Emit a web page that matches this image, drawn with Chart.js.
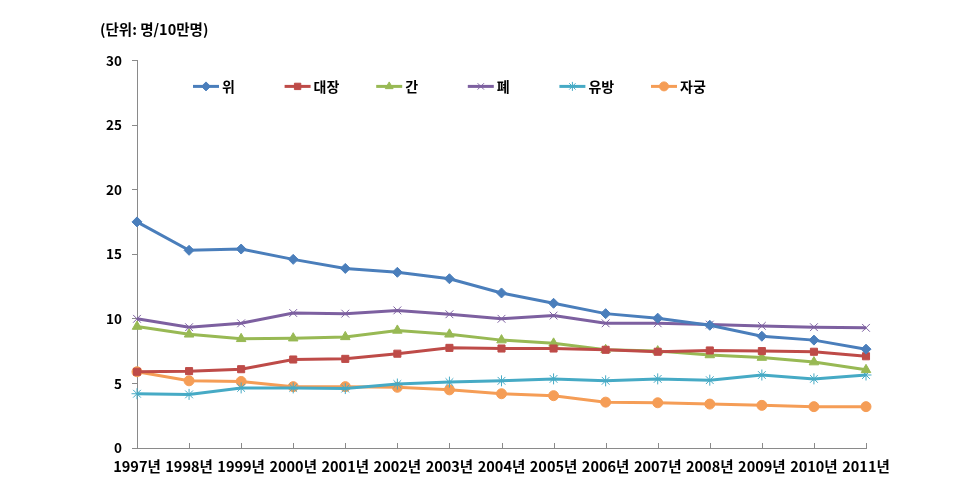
<!DOCTYPE html>
<html>
<head>
<meta charset="utf-8">
<script src="https://cdn.jsdelivr.net/npm/chart.js@4.4.1/dist/chart.umd.min.js"></script>
<style>
  html, body { margin: 0; padding: 0; background: #fff; }
  #wrap { width: 965px; height: 483px; }
</style>
</head>
<body>
<div id="wrap"><canvas id="lineChart" width="965" height="483"></canvas></div>
<script>
const years = ['1997년', '1998년', '1999년', '2000년', '2001년', '2002년', '2003년', '2004년',
  '2005년', '2006년', '2007년', '2008년', '2009년', '2010년', '2011년'];

const seriesNames = ['위', '대장', '간', '폐', '유방', '자궁'];

const stomach = [17.5, 15.3, 15.4, 14.6, 13.9, 13.6, 13.1, 12.0, 11.2, 10.4, 10.05, 9.5, 8.65, 8.35, 7.65];
const colorectal = [5.9, 5.95, 6.1, 6.85, 6.9, 7.3, 7.75, 7.7, 7.7, 7.6, 7.45, 7.55, 7.5, 7.45, 7.1];
const liver = [9.4, 8.8, 8.45, 8.5, 8.6, 9.1, 8.8, 8.35, 8.1, 7.6, 7.5, 7.2, 7.0, 6.65, 6.05];
const lung = [10.0, 9.35, 9.65, 10.45, 10.4, 10.65, 10.35, 10.0, 10.25, 9.65, 9.65, 9.55, 9.45, 9.35, 9.3];
const breast = [4.2, 4.15, 4.65, 4.65, 4.6, 4.95, 5.1, 5.2, 5.35, 5.2, 5.35, 5.25, 5.65, 5.35, 5.65];
const cervix = [5.9, 5.2, 5.15, 4.75, 4.75, 4.7, 4.5, 4.2, 4.05, 3.55, 3.5, 3.4, 3.3, 3.2, 3.2];

const yTicks = [0, 5, 10, 15, 20, 25, 30];

const colors = ['#4A7EBB', '#BE4B48', '#98B954', '#7D60A0', '#46AAC5', '#F59D56'];
const markers = ['rectRot', 'rect', 'triangle', 'crossRot', 'star', 'circle'];
const radii = [5, 5, 5.5, 5.5, 5.5, 5];

const FONT = '"Noto Sans CJK KR", "Noto Sans", sans-serif';

function makeDataset(i, values) {
  return {
    label: seriesNames[i],
    data: values,
    borderColor: colors[i],
    backgroundColor: colors[i],
    borderWidth: 3,
    tension: 0,
    pointStyle: markers[i],
    pointRadius: radii[i],
    pointBackgroundColor: colors[i],
    pointBorderColor: colors[i],
    pointBorderWidth: 1
  };
}

// legend drawn inside the plot area, like the original
const innerLegend = {
  id: 'innerLegend',
  afterDatasetsDraw(chart) {
    const ctx = chart.ctx;
    const area = chart.chartArea;
    const y = area.top + 26;
    ctx.save();
    chart.data.datasets.forEach((ds, i) => {
      const x = area.left + 56 + i * 91.6;
      ctx.strokeStyle = ds.borderColor;
      ctx.fillStyle = ds.borderColor;
      ctx.lineWidth = 3;
      ctx.beginPath();
      ctx.moveTo(x, y);
      ctx.lineTo(x + 26, y);
      ctx.stroke();
      ctx.lineWidth = 1;
      Chart.helpers.drawPoint(ctx, {
        pointStyle: ds.pointStyle, radius: 4.5, rotation: 0, borderWidth: 1
      }, x + 13, y);
      ctx.fillStyle = '#000';
      ctx.font = 'bold 14px ' + FONT;
      ctx.textBaseline = 'middle';
      ctx.textAlign = 'left';
      ctx.fillText(ds.label, x + 29, y);
    });
    ctx.restore();
  }
};

// x-axis tick marks point up into the plot
const innerTicks = {
  id: 'innerTicks',
  afterDraw(chart) {
    const ctx = chart.ctx;
    const xs = chart.scales.x;
    const bottom = chart.chartArea.bottom;
    ctx.save();
    ctx.strokeStyle = '#8a8a8a';
    ctx.lineWidth = 1;
    for (let i = 0; i < years.length; i++) {
      const px = Math.round(xs.getPixelForTick(i)) + 0.5;
      ctx.beginPath();
      ctx.moveTo(px, bottom);
      ctx.lineTo(px, bottom - 5);
      ctx.stroke();
    }
    ctx.restore();
  }
};

new Chart(document.getElementById('lineChart'), {
  type: 'line',
  data: {
    labels: years,
    datasets: [stomach, colorectal, liver, lung, breast, cervix].map((v, i) => makeDataset(i, v))
  },
  options: {
    responsive: false,
    animation: false,
    layout: { padding: { left: 100, right: 99, top: 21, bottom: 0 } },
    plugins: {
      legend: { display: false },
      tooltip: { enabled: false },
      title: {
        display: true,
        text: '(단위: 명/10만명)',
        align: 'start',
        color: '#000',
        font: { family: FONT, size: 14.5, weight: 'bold' },
        padding: { top: 0, bottom: 22 }
      }
    },
    scales: {
      x: {
        offset: false,
        afterFit(scale) { scale.height = 35; },
        grid: { display: false, drawTicks: false },
        border: { color: '#8a8a8a', width: 1 },
        ticks: {
          color: '#000',
          autoSkip: false,
          maxRotation: 0,
          minRotation: 0,
          padding: 10,
          font: { family: FONT, size: 14.5, weight: 'bold' }
        }
      },
      y: {
        min: 0,
        max: 30,
        afterFit(scale) { scale.width = 37; },
        afterBuildTicks(scale) { scale.ticks = yTicks.map(v => ({ value: v })); },
        grid: { drawOnChartArea: false, drawTicks: true, tickLength: 5, color: '#8a8a8a' },
        border: { color: '#8a8a8a', width: 1 },
        ticks: {
          color: '#000',
          padding: 10,
          font: { family: FONT, size: 13.5, weight: 'bold' }
        }
      }
    }
  },
  plugins: [innerLegend, innerTicks]
});
</script>
</body>
</html>
